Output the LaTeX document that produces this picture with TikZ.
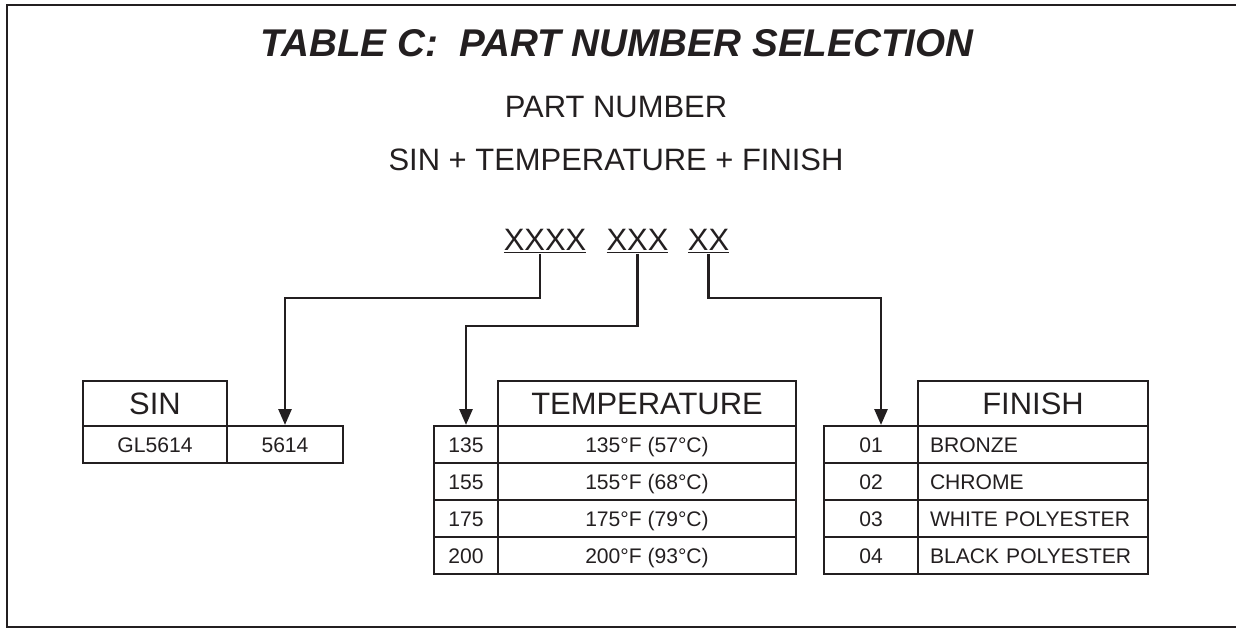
\documentclass[tikz,border=0pt]{standalone}
\usepackage{fontspec}
\setmainfont{Liberation Sans}
\usetikzlibrary{arrows.meta}
\definecolor{ink}{HTML}{231F20}

\begin{document}
\begin{tikzpicture}[
  every node/.style={text=ink},
  cell/.style={draw=ink, line width=1.3pt, inner sep=0pt, minimum height=0.74cm, text height=8.6pt, text depth=0pt, font=\fontsize{12}{14}\selectfont},
  headcell/.style={draw=ink, line width=1.3pt, inner sep=0pt, minimum height=0.90cm, text height=12.6pt, text depth=0pt, font=\fontsize{17.6}{20}\selectfont},
  fincell/.style={cell, text width=4.12cm, align=left, inner xsep=0.24cm},
  bigtext/.style={font=\fontsize{17.6}{20}\selectfont, anchor=base, inner sep=0pt},
  pick/.style={draw=ink, line width=1.2pt, -{Triangle[length=9pt,width=7.5pt]}}
]
\useasboundingbox (0,0) rectangle (24.72,-12.58);
\draw[ink, line width=1.6pt] (24.900,-0.100) -- (0.140,-0.100) -- (0.140,-12.540) -- (24.900,-12.540);

% heading
\node[anchor=base, font=\fontsize{22}{25}\selectfont\bfseries\itshape] (title) at (12.340,-1.120) {TABLE C:~~PART NUMBER SELECTION};
\node[bigtext] (pn) at (12.320,-2.340) {PART NUMBER};
\node[bigtext] (sum) at (12.320,-3.400) {SIN + TEMPERATURE + FINISH};
\node[bigtext] (xa) at (10.900,-5.000) {\underline{XXXX}};
\node[bigtext] (xb) at (12.750,-5.000) {\underline{XXX}};
\node[bigtext] (xc) at (14.170,-5.000) {\underline{XX}};

% SIN table
\node[headcell, minimum width=2.880cm] (sh) at (3.100,-8.070) {SIN};
\node[cell, minimum width=2.880cm] (s1) at (3.100,-8.890) {GL5614};
\node[cell, minimum width=2.320cm] (s2) at (5.700,-8.890) {5614};

% temperature table
\node[headcell, minimum width=5.960cm] (th) at (12.940,-8.070) {TEMPERATURE};
\node[cell, minimum width=1.280cm] (t1) at (9.320,-8.890) {135};
\node[cell, minimum width=5.960cm] (d1) at (12.940,-8.890) {135°F (57°C)};
\node[cell, minimum width=1.280cm] (t2) at (9.320,-9.630) {155};
\node[cell, minimum width=5.960cm] (d2) at (12.940,-9.630) {155°F (68°C)};
\node[cell, minimum width=1.280cm] (t3) at (9.320,-10.370) {175};
\node[cell, minimum width=5.960cm] (d3) at (12.940,-10.370) {175°F (79°C)};
\node[cell, minimum width=1.280cm] (t4) at (9.320,-11.110) {200};
\node[cell, minimum width=5.960cm] (d4) at (12.940,-11.110) {200°F (93°C)};

% finish table
\node[headcell, minimum width=4.600cm] (fh) at (20.660,-8.070) {FINISH};
\node[cell, minimum width=1.880cm] (f1) at (17.420,-8.890) {01};
\node[fincell] (g1) at (20.660,-8.890) {BRONZE};
\node[cell, minimum width=1.880cm] (f2) at (17.420,-9.630) {02};
\node[fincell] (g2) at (20.660,-9.630) {CHROME};
\node[cell, minimum width=1.880cm] (f3) at (17.420,-10.370) {03};
\node[fincell] (g3) at (20.660,-10.370) {WHITE POLYESTER};
\node[cell, minimum width=1.880cm] (f4) at (17.420,-11.110) {04};
\node[fincell] (g4) at (20.660,-11.110) {BLACK POLYESTER};

% leaders
\draw[pick] ([xshift=-0.1cm]xa.south) -- ++(0,-0.880) -| (s2.north);
\draw[pick] (xb.south) -- ++(0,-1.440) -| (t1.north);
\draw[pick] (xc.south) -- ++(0,-0.880) -| ([xshift=0.2cm]f1.north);
\end{tikzpicture}
\end{document}
